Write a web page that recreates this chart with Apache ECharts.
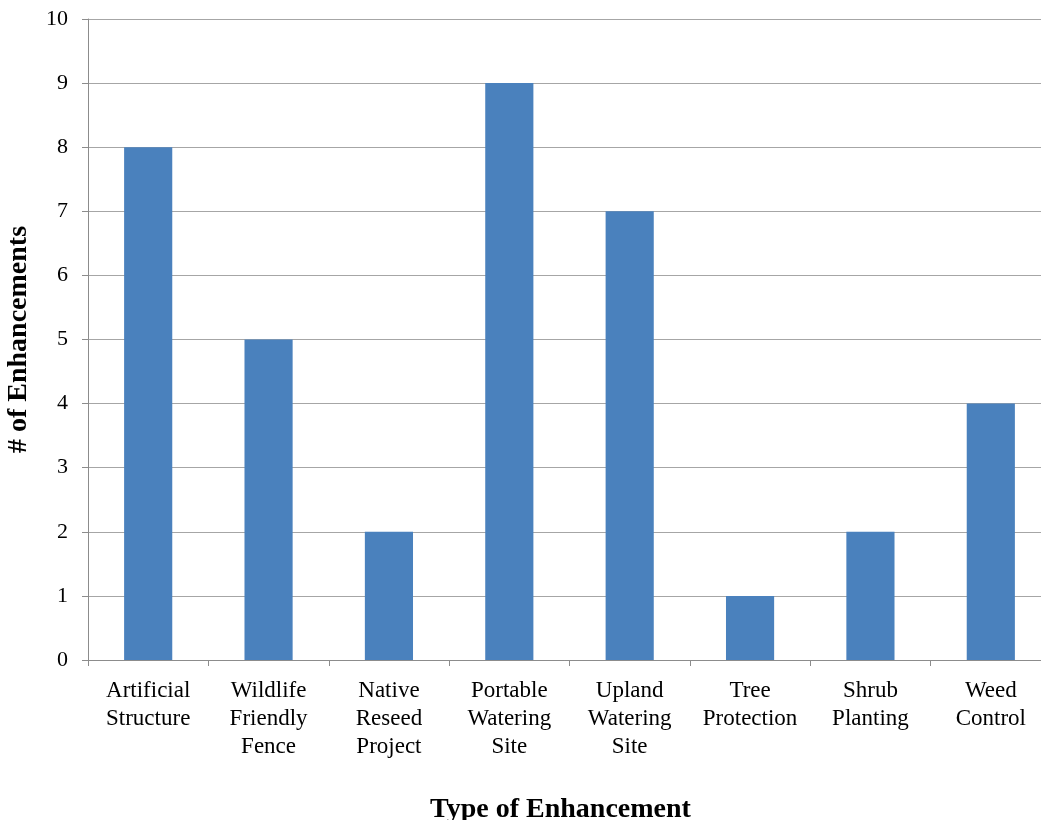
<!DOCTYPE html>
<html>
<head>
<meta charset="utf-8">
<script src="https://cdn.jsdelivr.net/npm/echarts@6/dist/echarts.min.js"></script>
<style>
  html, body { margin: 0; padding: 0; background: #fff; overflow: hidden; }
  #chart { width: 1041px; height: 820px; }
</style>
</head>
<body>
<div id="chart"></div>
<script>
// Enhancement types (line breaks as they are set under the axis)
const categories = [
  'Artificial\nStructure',
  'Wildlife\nFriendly\nFence',
  'Native\nReseed\nProject',
  'Portable\nWatering\nSite',
  'Upland\nWatering\nSite',
  'Tree\nProtection',
  'Shrub\nPlanting',
  'Weed\nControl'
];
// Number of enhancements per type
const counts = [8, 5, 2, 9, 7, 1, 2, 4];
// Value axis range
const yMin = 0, yMax = 10, yStep = 1;

const serif = '"Liberation Serif", "Times New Roman", serif';
const chart = echarts.init(document.getElementById('chart'));
chart.setOption({
  backgroundColor: '#fff',
  animation: false,
  // the plot runs slightly past the right edge of the canvas
  grid: { left: 88, width: 963, top: 19, bottom: 160, containLabel: false, outerBoundsMode: 'none' },
  xAxis: {
    type: 'category',
    data: categories,
    name: 'Type of Enhancement',
    nameLocation: 'middle',
    nameGap: 136,
    nameTextStyle: { fontFamily: serif, fontSize: 28, fontWeight: 'bold', color: '#000', padding: [0, 18, 0, 0] },
    axisLine: { lineStyle: { color: '#8c8c8c', width: 1 } },
    axisTick: { show: true, length: 6, lineStyle: { color: '#8c8c8c' } },
    axisLabel: { fontFamily: serif, fontSize: 23, color: '#000', lineHeight: 28, margin: 17, interval: 0 }
  },
  yAxis: {
    type: 'value',
    min: yMin, max: yMax, interval: yStep,
    name: '# of Enhancements',
    nameLocation: 'middle',
    nameGap: 55,
    nameRotate: 90,
    nameTextStyle: { fontFamily: serif, fontSize: 28, fontWeight: 'bold', color: '#000' },
    axisLine: { show: true, lineStyle: { color: '#8c8c8c', width: 1 } },
    axisTick: { show: true, length: 6, lineStyle: { color: '#8c8c8c' } },
    splitLine: { lineStyle: { color: '#a6a6a6', width: 1 } },
    axisLabel: { fontFamily: serif, fontSize: 22, color: '#000', margin: 20 }
  },
  series: [{
    type: 'bar',
    data: counts,
    barWidth: '40%',
    itemStyle: { color: '#4A81BD' }
  }]
});
</script>
</body>
</html>
